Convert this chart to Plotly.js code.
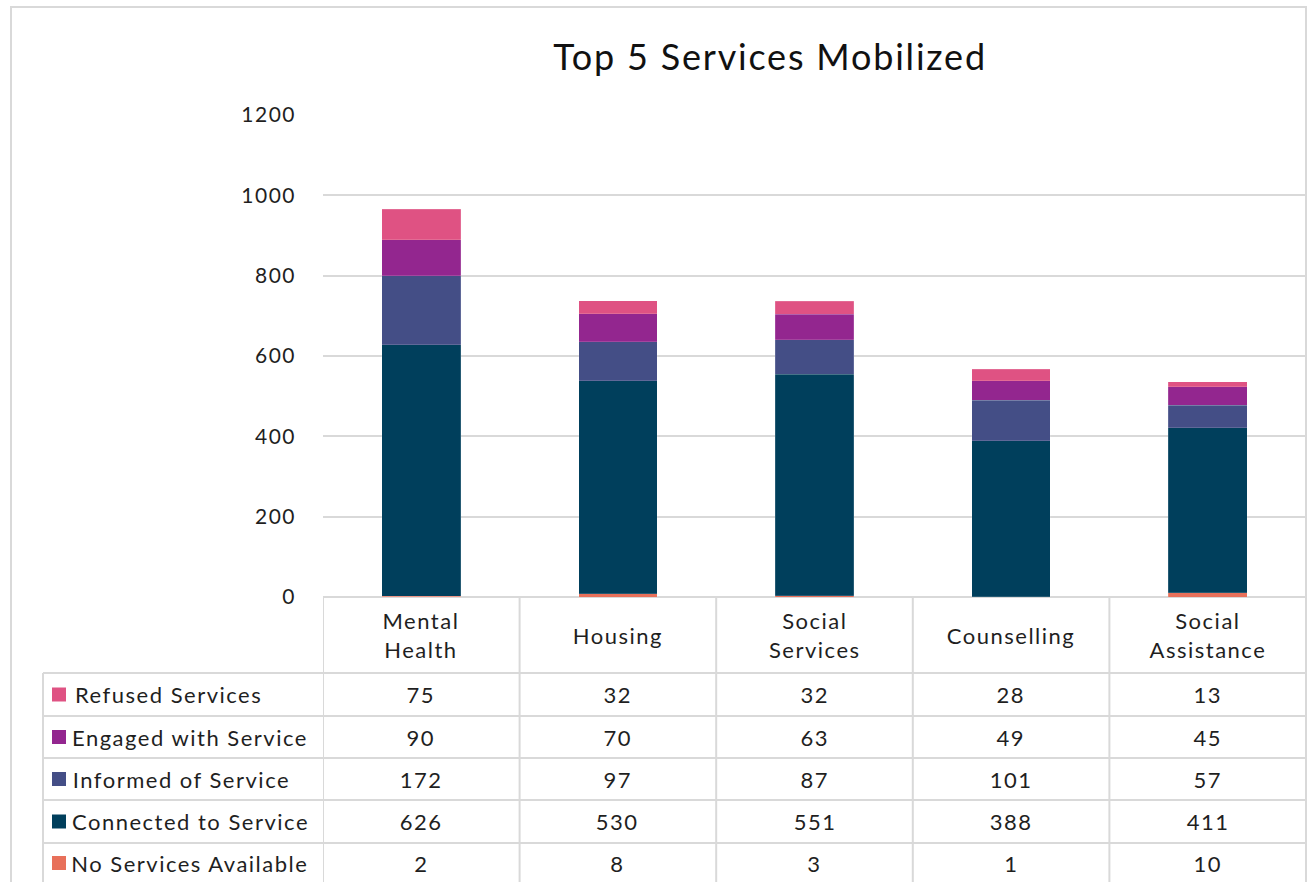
<!DOCTYPE html>
<html>
<head>
<meta charset="utf-8">
<script src="https://cdn.plot.ly/plotly-3.0.1.min.js"></script>
<style>
  html, body { margin: 0; padding: 0; background: #fff; }
  #chart { width: 1308px; height: 882px; }
  #chart text { letter-spacing: 1.5px; }
  #chart text.gtitle { letter-spacing: 1.8px; }
</style>
</head>
<body>
<div id="chart"></div>
<script>
// ---- data ----
const categories = ['Mental Health', 'Housing', 'Social Services', 'Counselling', 'Social Assistance'];
const categoryLabels = ['Mental<br>Health', 'Housing', 'Social<br>Services', 'Counselling', 'Social<br>Assistance'];
const noServicesAvailable = [2, 8, 3, 1, 10];
const connectedToService = [626, 530, 551, 388, 411];
const informedOfService = [172, 97, 87, 101, 57];
const engagedWithService = [90, 70, 63, 49, 45];
const refusedServices = [75, 32, 32, 28, 13];
const seriesNames = ['No Services Available', 'Connected to Service', 'Informed of Service', 'Engaged with Service', 'Refused Services'];
const seriesColors = ['#E8705A', '#003F5C', '#444E86', '#93268F', '#DF5283'];
const yTickValues = [0, 200, 400, 600, 800, 1000, 1200];
const chartTitle = 'Top 5 Services Mobilized';

// ---- geometry (pixels) ----
const W = 1308, H = 882;
const plotL = 323, plotR = 1306, plotT = 115, plotB = 597;
const px = x => (x - plotL) / (plotR - plotL);
const py = y => (plotB - y) / (plotB - plotT);
const gridColor = '#D9D9D9';
const textColor = '#1f1f1f';
const FONT = 'Lato, "Open Sans", sans-serif';
const FS = 22;

const seriesValues = [noServicesAvailable, connectedToService, informedOfService, engagedWithService, refusedServices];

const traces = seriesValues.map((vals, i) => ({
  type: 'bar',
  name: seriesNames[i],
  x: categories,
  y: vals,
  marker: { color: seriesColors[i], line: { color: 'rgba(255,255,255,0.25)', width: 0.6 } },
  hoverinfo: 'x+y+name'
}));

const shapes = [];
const annotations = [];

// outer chart border
shapes.push({ type: 'rect', xref: 'paper', yref: 'paper', x0: px(11), x1: px(1306), y0: py(7), y1: py(900),
  line: { color: gridColor, width: 2 }, layer: 'below' });

// table geometry
const tableLeft = 43;
const catRowTop = 597, catRowBottom = 673;
const rowLines = [673, 716, 758, 800, 843];
const tableBottom = 900;

rowLines.forEach(y => {
  shapes.push({ type: 'line', xref: 'paper', yref: 'paper', x0: px(tableLeft), x1: px(1306), y0: py(y), y1: py(y),
    line: { color: gridColor, width: 2 } });
});
for (let i = 0; i <= categories.length; i++) {
  shapes.push({ type: 'line', xref: 'x', yref: 'paper', x0: i - 0.5, x1: i - 0.5, y0: py(catRowTop), y1: py(tableBottom),
    line: { color: gridColor, width: 2 } });
}
shapes.push({ type: 'line', xref: 'paper', yref: 'paper', x0: px(tableLeft), x1: px(tableLeft), y0: py(catRowBottom), y1: py(tableBottom),
  line: { color: gridColor, width: 2 } });

// category labels row
categories.forEach((c, i) => {
  annotations.push({ xref: 'x', yref: 'paper', x: c, y: py((catRowTop + catRowBottom) / 2), text: categoryLabels[i],
    showarrow: false, xanchor: 'center', yanchor: 'middle', font: { family: FONT, size: FS, color: textColor } });
});

// table rows (top to bottom)
const rowOrder = [4, 3, 2, 1, 0];
const rowCenters = [694.5, 737, 779, 821.5, 863];
rowOrder.forEach((si, r) => {
  const yc = rowCenters[r];
  shapes.push({ type: 'rect', xref: 'paper', yref: 'paper', x0: px(52), x1: px(66), y0: py(yc - 7), y1: py(yc + 7),
    fillcolor: seriesColors[si], line: { width: 0 } });
  annotations.push({ xref: 'paper', yref: 'paper', x: px(85), y: py(yc), text: seriesNames[si], showarrow: false,
    xanchor: 'left', yanchor: 'middle', font: { family: FONT, size: FS, color: textColor } });
  categories.forEach((c, ci) => {
    annotations.push({ xref: 'x', yref: 'paper', x: c, y: py(yc), text: String(seriesValues[si][ci]), showarrow: false,
      xanchor: 'center', yanchor: 'middle', font: { family: FONT, size: FS, color: textColor } });
  });
});

const layout = {
  width: W, height: H,
  margin: { l: plotL, r: W - plotR, t: plotT, b: H - plotB, pad: 0 },
  paper_bgcolor: '#fff', plot_bgcolor: '#fff',
  barmode: 'stack', bargap: 0.6,
  showlegend: false,
  font: { family: FONT, color: textColor },
  title: { text: chartTitle, xref: 'container', yref: 'container', x: 770 / W, xanchor: 'center',
    y: 1 - 57 / H, yanchor: 'middle', font: { family: FONT, size: 36, color: '#111' } },
  xaxis: { type: 'category', range: [-0.5, categories.length - 0.5], showticklabels: false, showgrid: false,
    zeroline: false, showline: false, ticks: '', fixedrange: true },
  yaxis: { range: [0, 1200], tickvals: yTickValues, ticktext: yTickValues.map(String), showgrid: true,
    gridcolor: gridColor, gridwidth: 2, zeroline: true, zerolinecolor: gridColor, zerolinewidth: 2,
    showline: false, ticks: '', ticklabelstandoff: 26, tickfont: { family: FONT, size: 21, color: textColor },
    fixedrange: true },
  shapes: shapes,
  annotations: annotations
};

Plotly.newPlot('chart', traces, layout, { displayModeBar: false, responsive: false });
</script>
</body>
</html>
